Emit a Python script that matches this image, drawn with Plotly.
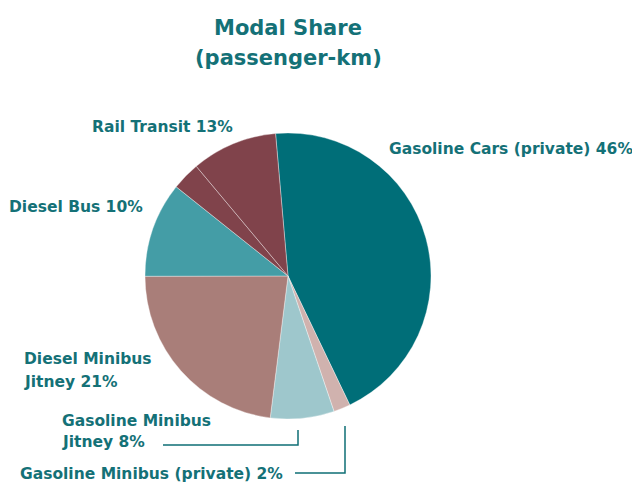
import plotly.graph_objects as go

# Slice data (clockwise from the top), sizes
slices = ["Gasoline Cars (private)", "Gasoline Minibus (private)", "Gasoline Minibus Jitney",
          "Diesel Minibus Jitney", "Diesel Bus", "Rail Transit (a)", "Rail Transit (b)"]
shares = [44.3, 1.9, 7.2, 23.0, 10.75, 3.2, 9.7]
colors = ["#006e78", "#d0b2ae", "#9ec7cc", "#a97e79", "#449da6", "#80434b", "#80434b"]

# Label texts as printed on the chart (one entry per label, lines split by "|")
label_texts = ["Gasoline Cars (private) 46%", "Rail Transit 13%", "Diesel Bus 10%",
               "Diesel Minibus|Jitney 21%", "Gasoline Minibus|Jitney 8%",
               "Gasoline Minibus (private) 2%"]
title_lines = ["Modal Share", "(passenger-km)"]

TXT = "#147177"
FONT = "DejaVu Sans"
W, H = 632, 482
cx, cy, r = 288, 276, 143

fig = go.Figure(go.Pie(
    labels=slices, values=shares, sort=False, direction="clockwise", rotation=-5,
    marker=dict(colors=colors, line=dict(color="rgba(255,255,255,0.6)", width=0.6)),
    textinfo="none", hoverinfo="label+percent", showlegend=False,
    domain=dict(x=[(cx - r) / W, (cx + r) / W], y=[(H - cy - r) / H, (H - cy + r) / H]),
))

def px(x):
    return x / W

def py(y):
    return 1 - y / H

# label line anchor positions (left edge, vertical centre) in pixels
line_pos = [[(387, 149)], [(90, 127)], [(7, 207)],
            [(22, 359), (22, 382)], [(60, 421), (60, 442)], [(18, 474)]]
annotations = []
for t, poss in zip(label_texts, line_pos):
    for ln, (x, y) in zip(t.split("|"), poss):
        annotations.append(dict(x=px(x), y=py(y), xref="paper", yref="paper",
                                text="<b>" + ln + "</b>", showarrow=False,
                                xanchor="left", yanchor="middle",
                                font=dict(family=FONT, size=15.5, color=TXT)))
for ln, y in zip(title_lines, [28, 58]):
    annotations.append(dict(x=px(288), y=py(y), xref="paper", yref="paper",
                            text="<b>" + ln + "</b>", showarrow=False,
                            xanchor="center", yanchor="middle",
                            font=dict(family=FONT, size=21, color=TXT)))

line_style = dict(color="#0f6f75", width=1.5)
shapes = [
    dict(type="path", xref="paper", yref="paper",
         path=f"M {px(298)} {py(430)} L {px(298)} {py(445)} L {px(163)} {py(445)}", line=line_style),
    dict(type="path", xref="paper", yref="paper",
         path=f"M {px(345)} {py(426)} L {px(345)} {py(473)} L {px(295)} {py(473)}", line=line_style),
]

fig.update_layout(width=W, height=H, margin=dict(l=0, r=0, t=0, b=0),
                  paper_bgcolor="white", plot_bgcolor="white",
                  annotations=annotations, shapes=shapes)
fig.write_html("out.html", config={"displayModeBar": False},
               post_script="document.body.style.margin='0';")
